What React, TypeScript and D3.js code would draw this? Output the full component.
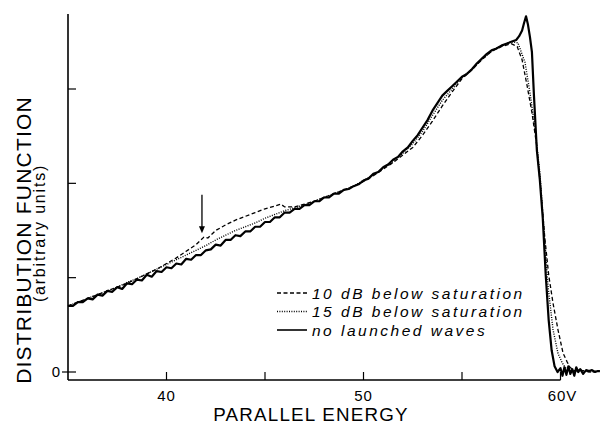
import React from "react";
import * as d3 from "d3";

// ---- data ----
const solidEnergy = [35.0,35.25,35.5,35.75,36.0,36.25,36.5,36.75,37.0,37.25,37.5,37.75,38.0,38.25,38.5,38.75,39.0,39.25,39.5,39.75,40.0,40.25,40.5,40.75,41.0,41.25,41.5,41.75,42.0,42.25,42.5,42.75,43.0,43.25,43.5,43.75,44.0,44.25,44.5,44.75,45.0,45.25,45.5,45.75,46.0,46.25,46.5,46.75,47.0,47.25,47.5,47.75,48.0,48.25,48.5,48.75,49.0,49.25,49.5,49.75,50.0,50.25,50.5,50.75,51.0,51.25,51.5,51.75,52.0,52.25,52.5,52.75,53.0,53.25,53.5,53.75,54.0,54.25,54.5,54.75,55.0,55.25,55.5,55.75,56.0,56.25,56.5,56.75,57.0,57.25,57.5,57.75,57.9,58.05,58.15,58.25,58.35,58.45,58.55,58.65,58.8,58.95,59.1,59.25,59.4,59.55,59.7,59.85,60.0,60.1,60.2,60.3,60.4,60.5,60.6,60.7,60.8,60.9,61.0,61.15,61.3,61.45,61.6,61.75,61.9,62.0];
const solidValues = [0.70,0.70,0.74,0.74,0.78,0.77,0.82,0.81,0.86,0.85,0.90,0.88,0.94,0.93,0.98,0.97,1.03,1.01,1.07,1.06,1.11,1.10,1.15,1.14,1.20,1.19,1.24,1.24,1.29,1.30,1.35,1.34,1.40,1.40,1.45,1.44,1.49,1.49,1.54,1.54,1.59,1.59,1.64,1.64,1.69,1.69,1.73,1.73,1.77,1.77,1.81,1.81,1.85,1.85,1.89,1.89,1.93,1.94,1.97,1.99,2.03,2.05,2.10,2.12,2.17,2.20,2.25,2.28,2.34,2.38,2.45,2.51,2.59,2.67,2.77,2.85,2.93,2.98,3.03,3.08,3.13,3.16,3.21,3.27,3.32,3.37,3.41,3.43,3.46,3.48,3.50,3.52,3.56,3.62,3.70,3.77,3.68,3.55,3.39,2.94,2.35,2.04,1.63,1.03,0.55,0.23,0.06,0.00,0.04,-0.04,0.05,-0.03,0.06,-0.02,0.03,-0.04,0.05,0.00,0.03,-0.02,0.02,0.01,0.02,0.00,0.01,0.01];

const dashedEnergy = [35.0,35.5,36.0,36.5,37.0,37.5,38.0,38.5,39.0,39.5,40.0,40.5,41.0,41.5,41.9,42.1,42.5,43.0,43.5,44.0,44.5,45.0,45.5,45.8,46.0,46.5,47.0,47.5,48.0,48.5,49.0,49.5,50.0,50.5,51.0,51.5,52.0,52.5,53.0,53.5,54.0,54.5,55.0,55.5,56.0,56.5,57.0,57.5,57.8,58.05,58.3,58.55,58.8,59.0,59.2,59.4,59.62,59.87,60.13,60.33,60.48,60.74,61.0,61.5,62.0];
const dashedValues = [0.70,0.74,0.78,0.82,0.86,0.90,0.94,0.99,1.04,1.09,1.15,1.21,1.28,1.35,1.43,1.42,1.50,1.56,1.61,1.65,1.69,1.73,1.76,1.78,1.75,1.75,1.78,1.81,1.85,1.89,1.93,1.97,2.02,2.08,2.15,2.22,2.30,2.38,2.51,2.66,2.82,2.97,3.11,3.20,3.31,3.40,3.45,3.48,3.45,3.31,3.04,2.75,2.39,1.93,1.43,1.03,0.73,0.45,0.20,0.11,0.05,0.01,0.02,0.00,0.01];

const dottedEnergy = [35.0,35.5,36.0,36.5,37.0,37.5,38.0,38.5,39.0,39.5,40.0,40.5,41.0,41.5,42.0,42.5,43.0,43.5,44.0,44.5,45.0,45.5,46.0,46.5,47.0,47.5,48.0,48.5,49.0,49.5,50.0,50.5,51.0,51.5,52.0,52.5,53.0,53.5,54.0,54.5,55.0,55.5,56.0,56.5,57.0,57.5,57.84,58.2,58.45,58.7,58.96,59.16,59.37,59.62,59.87,60.08,60.23,60.48,61.0,61.5,62.0];
const dottedValues = [0.70,0.74,0.78,0.82,0.86,0.90,0.95,0.99,1.04,1.09,1.14,1.19,1.24,1.29,1.34,1.40,1.45,1.50,1.54,1.58,1.63,1.67,1.71,1.74,1.77,1.81,1.85,1.89,1.93,1.97,2.03,2.09,2.16,2.23,2.32,2.42,2.55,2.72,2.88,3.00,3.12,3.21,3.31,3.40,3.46,3.50,3.49,3.28,2.96,2.60,2.09,1.51,0.90,0.45,0.20,0.10,0.05,0.01,0.02,0.00,0.01];

const xTicks = [40, 45, 50, 55, 60];
const xTickLabels = ["40", "", "50", "", "60V"];
const yTicks = [0, 1, 2, 3];
const yTickLabels = ["0", "", "", ""];
const legendLabels = ["10 dB below saturation", "15 dB below saturation", "no launched waves"];
const arrowEnergy = 41.8;
const arrowFrom = 1.88;
const arrowTo = 1.47;

const W = 600, H = 425;
const FONT = "'Liberation Sans', Arial, Helvetica, sans-serif";

export default function App() {
  const x = d3.scaleLinear().domain([35, 60]).range([68, 560.5]);
  const y = d3.scaleLinear().domain([0, 3]).range([372, 89]);
  const axisX = 68, axisBottom = 380, axisTop = 14;

  const mk = (es: number[], vs: number[]) =>
    d3.line<number>().x((_, i) => x(es[i])).y((v) => y(v))(vs) || "";

  const solidPath = mk(solidEnergy, solidValues);
  const dashedPath = mk(dashedEnergy, dashedValues);
  const dottedPath = mk(dottedEnergy, dottedValues);

  const legendStyles = [
    { dash: "4,2.5", w: 1.3 },
    { dash: "1,1.4", w: 1.4 },
    { dash: "", w: 1.6 },
  ];

  const ax = x(arrowEnergy);
  return (
    <svg width={W} height={H} style={{ position: "absolute", left: 0, top: 0, background: "#fff" }}>
      <rect width={W} height={H} fill="#fff" />
      {/* axes */}
      <line x1={axisX} x2={axisX} y1={axisTop} y2={axisBottom} stroke="#000" strokeWidth={1.6} />
      <line x1={axisX} x2={x(60)} y1={axisBottom} y2={axisBottom} stroke="#000" strokeWidth={1.6} />
      {yTicks.map((t, i) => (
        <g key={"yt" + i}>
          <line x1={t === 0 ? axisX - 6 : axisX} x2={axisX + 8} y1={y(t)} y2={y(t)} stroke="#000" strokeWidth={1.2} />
          {yTickLabels[i] && (
            <text x={axisX - 8} y={y(t) + 5} textAnchor="end" fontFamily={FONT} fontSize={15}>
              {yTickLabels[i]}
            </text>
          )}
        </g>
      ))}
      {xTicks.map((t, i) => (
        <g key={"xt" + i}>
          <line x1={x(t)} x2={x(t)} y1={axisBottom} y2={axisBottom - 8} stroke="#000" strokeWidth={1.2} />
          {xTickLabels[i] && (
            <text x={x(t) + (i === 4 ? 2 : 0)} y={400.5} textAnchor="middle" fontFamily={FONT} fontSize={15} letterSpacing={1}>
              {xTickLabels[i]}
            </text>
          )}
        </g>
      ))}
      {/* axis titles */}
      <text x={311} y={421} textAnchor="middle" fontFamily={FONT} fontSize={18.8} letterSpacing={1.2}>
        PARALLEL ENERGY
      </text>
      <text transform="translate(31,240) rotate(-90)" textAnchor="middle" fontFamily={FONT} fontSize={21} letterSpacing={1.2}>
        DISTRIBUTION FUNCTION
      </text>
      <text transform="translate(45,233) rotate(-90)" textAnchor="middle" fontFamily={FONT} fontSize={16} letterSpacing={1.8}>
        (arbitrary units)
      </text>
      {/* curves */}
      <path d={dottedPath} fill="none" stroke="#000" strokeWidth={1.4} strokeDasharray="1,1.4" />
      <path d={dashedPath} fill="none" stroke="#000" strokeWidth={1.3} strokeDasharray="4,2.5" />
      <path d={solidPath} fill="none" stroke="#000" strokeWidth={2.2} strokeLinejoin="round" />
      {/* arrow */}
      <line x1={ax} x2={ax} y1={y(arrowFrom)} y2={y(arrowTo) - 6} stroke="#000" strokeWidth={1.3} />
      <path d={`M${ax - 3},${y(arrowTo) - 7} L${ax + 3},${y(arrowTo) - 7} L${ax},${y(arrowTo)} Z`} fill="#000" />
      {/* legend */}
      {legendLabels.map((lab, i) => {
        const ly = 293 + i * 18.5;
        return (
          <g key={"lg" + i}>
            <line x1={277} x2={307} y1={ly} y2={ly} stroke="#000" strokeWidth={legendStyles[i].w} strokeDasharray={legendStyles[i].dash} />
            <text x={312} y={ly + 5.5} fontFamily={FONT} fontSize={15.5} fontStyle="italic" letterSpacing={2.5}>
              {lab}
            </text>
          </g>
        );
      })}
    </svg>
  );
}
